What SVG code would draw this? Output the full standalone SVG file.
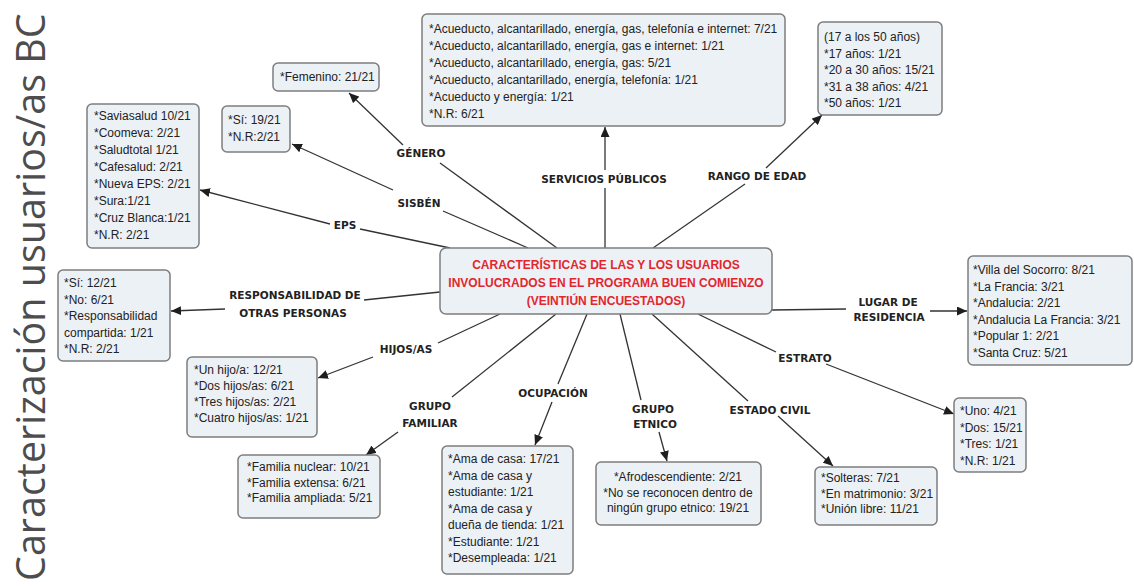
<svg xmlns="http://www.w3.org/2000/svg" width="1134" height="586" viewBox="0 0 1134 586">
<defs>
<marker id="ah" markerUnits="userSpaceOnUse" markerWidth="11" markerHeight="9" refX="10" refY="4.5" orient="auto">
<path d="M0,0 L10,4.5 L0,9 z" fill="#1e1e1e"/>
</marker>
<style>
.box{fill:#ecf1f6;stroke:#7d7d7d;stroke-width:1.5}
.t{font-family:"Liberation Sans",Arial,sans-serif;font-size:12px;fill:#222}
.tc{font-family:"Liberation Sans",Arial,sans-serif;font-size:12px;fill:#222;text-anchor:middle}
.ct{font-family:"Liberation Sans",Arial,sans-serif;font-size:12px;font-weight:bold;fill:#e3262d;text-anchor:middle}
.lbl{font-family:"DejaVu Sans",Verdana,sans-serif;font-size:10.5px;font-weight:bold;fill:#222;text-anchor:middle}
.c{stroke:#333;stroke-width:1.3;fill:none}
.a{stroke:#333;stroke-width:1.3;fill:none;marker-end:url(#ah)}
.title{font-family:"Open Sans","Noto Sans",sans-serif;font-size:39.5px;fill:#4d4d4d}
</style>
</defs>
<rect width="1134" height="586" fill="#ffffff"/>

<text class="title" transform="translate(45,581) rotate(-90)" x="0" y="0">Caracterización usuarios/as BC</text>

<g id="connectors">
<line class="c" x1="557" y1="248" x2="440" y2="163"/>
<line class="a" x1="403" y1="145" x2="349" y2="93"/>
<line class="c" x1="528" y1="248" x2="443" y2="211"/>
<line class="a" x1="393" y1="190" x2="292" y2="144"/>
<line class="c" x1="450" y1="248" x2="360" y2="229"/>
<line class="a" x1="330" y1="224" x2="200" y2="190"/>
<line class="c" x1="605" y1="248" x2="605" y2="188"/>
<line class="a" x1="605" y1="170" x2="605" y2="127"/>
<line class="c" x1="653" y1="248" x2="745" y2="184"/>
<line class="a" x1="766" y1="168" x2="822" y2="115"/>
<line class="c" x1="440" y1="292" x2="364" y2="300"/>
<line class="a" x1="225" y1="309" x2="171" y2="311"/>
<line class="c" x1="500" y1="314" x2="438" y2="343"/>
<line class="a" x1="373" y1="357" x2="318" y2="378"/>
<line class="c" x1="556" y1="314" x2="452" y2="397"/>
<line class="a" x1="398" y1="432" x2="366" y2="455"/>
<line class="c" x1="587" y1="314" x2="558" y2="384"/>
<line class="a" x1="552" y1="402" x2="535" y2="445"/>
<line class="c" x1="620" y1="314" x2="641" y2="400"/>
<line class="a" x1="659" y1="432" x2="667" y2="461"/>
<line class="c" x1="652" y1="314" x2="748" y2="401"/>
<line class="a" x1="778" y1="416" x2="833" y2="466"/>
<line class="c" x1="698" y1="314" x2="776" y2="352"/>
<line class="a" x1="826" y1="364" x2="954" y2="414"/>
<line class="c" x1="772" y1="310" x2="846" y2="309"/>
<line class="a" x1="930" y1="311" x2="967" y2="311"/>
</g>

<g id="center">
<rect class="box" x="440" y="248" width="332" height="66" rx="6"/>
<text class="ct" x="606" y="269">CARACTERÍSTICAS DE LAS Y LOS USUARIOS</text>
<text class="ct" x="606" y="286.5">INVOLUCRADOS EN EL PROGRAMA BUEN COMIENZO</text>
<text class="ct" x="606" y="305">(VEINTIÚN ENCUESTADOS)</text>
</g>

<g id="lbl-genero"><text class="lbl" x="421" y="157">GÉNERO</text></g>
<g id="lbl-sisben"><text class="lbl" x="419" y="207">SISBÉN</text></g>
<g id="lbl-eps"><text class="lbl" x="345" y="229">EPS</text></g>
<g id="lbl-servicios"><text class="lbl" x="604" y="183">SERVICIOS PÚBLICOS</text></g>
<g id="lbl-rango"><text class="lbl" x="757" y="180">RANGO DE EDAD</text></g>
<g id="lbl-resp"><text class="lbl" x="295" y="299">RESPONSABILIDAD DE</text><text class="lbl" x="293" y="317">OTRAS PERSONAS</text></g>
<g id="lbl-hijos"><text class="lbl" x="406" y="353">HIJOS/AS</text></g>
<g id="lbl-familiar"><text class="lbl" x="430" y="410">GRUPO</text><text class="lbl" x="430" y="427">FAMILIAR</text></g>
<g id="lbl-ocupacion"><text class="lbl" x="553" y="397">OCUPACIÓN</text></g>
<g id="lbl-etnico"><text class="lbl" x="653" y="413">GRUPO</text><text class="lbl" x="655" y="428">ETNICO</text></g>
<g id="lbl-civil"><text class="lbl" x="770" y="414">ESTADO CIVIL</text></g>
<g id="lbl-estrato"><text class="lbl" x="805" y="362">ESTRATO</text></g>
<g id="lbl-lugar"><text class="lbl" x="888" y="306">LUGAR DE</text><text class="lbl" x="889" y="321">RESIDENCIA</text></g>

<g id="n-genero">
<rect class="box" x="273" y="63" width="106" height="28" rx="5"/>
<text class="t" x="280" y="81">*Femenino: 21/21</text>
</g>

<g id="n-sisben">
<rect class="box" x="222" y="106" width="68" height="46" rx="5"/>
<text class="t" x="228" y="124">*Sí: 19/21</text>
<text class="t" x="228" y="141">*N.R:2/21</text>
</g>

<g id="n-eps">
<rect class="box" x="87" y="104" width="112" height="144" rx="5"/>
<text class="t" x="94" y="120">*Saviasalud 10/21</text>
<text class="t" x="94" y="137">*Coomeva: 2/21</text>
<text class="t" x="94" y="154">*Saludtotal 1/21</text>
<text class="t" x="94" y="171">*Cafesalud: 2/21</text>
<text class="t" x="94" y="188">*Nueva EPS: 2/21</text>
<text class="t" x="94" y="205">*Sura:1/21</text>
<text class="t" x="94" y="222">*Cruz Blanca:1/21</text>
<text class="t" x="94" y="239">*N.R: 2/21</text>
</g>

<g id="n-servicios">
<rect class="box" x="422" y="14" width="363" height="112" rx="5"/>
<text class="t" x="429" y="33">*Acueducto, alcantarillado, energía, gas, telefonía e internet: 7/21</text>
<text class="t" x="429" y="50">*Acueducto, alcantarillado, energía, gas e internet: 1/21</text>
<text class="t" x="429" y="67">*Acueducto, alcantarillado, energía, gas: 5/21</text>
<text class="t" x="429" y="84">*Acueducto, alcantarillado, energía, telefonía: 1/21</text>
<text class="t" x="429" y="101">*Acueducto y energía: 1/21</text>
<text class="t" x="429" y="118">*N.R: 6/21</text>
</g>

<g id="n-rango">
<rect class="box" x="818" y="22" width="124" height="93" rx="5"/>
<text class="t" x="824" y="41">(17 a los 50 años)</text>
<text class="t" x="824" y="57.5">*17 años: 1/21</text>
<text class="t" x="824" y="74">*20 a 30 años: 15/21</text>
<text class="t" x="824" y="90.5">*31 a 38 años: 4/21</text>
<text class="t" x="824" y="107">*50 años: 1/21</text>
</g>

<g id="n-resp">
<rect class="box" x="58" y="270" width="112" height="91" rx="5"/>
<text class="t" x="64" y="287">*Sí: 12/21</text>
<text class="t" x="64" y="303.5">*No: 6/21</text>
<text class="t" x="64" y="320">*Responsabilidad</text>
<text class="t" x="64" y="336.5">compartida: 1/21</text>
<text class="t" x="64" y="353">*N.R: 2/21</text>
</g>

<g id="n-lugar">
<rect class="box" x="968" y="256" width="164" height="109" rx="5"/>
<text class="t" x="973" y="274">*Villa del Socorro: 8/21</text>
<text class="t" x="973" y="290.5">*La Francia: 3/21</text>
<text class="t" x="973" y="307">*Andalucia: 2/21</text>
<text class="t" x="973" y="323.5">*Andalucia La Francia: 3/21</text>
<text class="t" x="973" y="340">*Popular 1: 2/21</text>
<text class="t" x="973" y="356.5">*Santa Cruz: 5/21</text>
</g>

<g id="n-hijos">
<rect class="box" x="187" y="357" width="130" height="80" rx="5"/>
<text class="t" x="194" y="374">*Un hijo/a: 12/21</text>
<text class="t" x="194" y="390">*Dos hijos/as: 6/21</text>
<text class="t" x="194" y="406">*Tres hijos/as: 2/21</text>
<text class="t" x="194" y="422">*Cuatro hijos/as: 1/21</text>
</g>

<g id="n-familiar">
<rect class="box" x="238" y="455" width="142" height="63" rx="5"/>
<text class="t" x="247" y="471">*Familia nuclear: 10/21</text>
<text class="t" x="247" y="486.5">*Familia extensa: 6/21</text>
<text class="t" x="247" y="502">*Familia ampliada: 5/21</text>
</g>

<g id="n-ocupacion">
<rect class="box" x="442" y="446" width="131" height="128" rx="5"/>
<text class="t" x="448" y="463">*Ama de casa: 17/21</text>
<text class="t" x="448" y="479.5">*Ama de casa y</text>
<text class="t" x="448" y="496">estudiante: 1/21</text>
<text class="t" x="448" y="512.5">*Ama de casa y</text>
<text class="t" x="448" y="529">dueña de tienda: 1/21</text>
<text class="t" x="448" y="545.5">*Estudiante: 1/21</text>
<text class="t" x="448" y="562">*Desempleada: 1/21</text>
</g>

<g id="n-etnico">
<rect class="box" x="596" y="462" width="165" height="63" rx="5"/>
<text class="tc" x="678" y="481">*Afrodescendiente: 2/21</text>
<text class="tc" x="678" y="497">*No se reconocen dentro de</text>
<text class="tc" x="678" y="512">ningún grupo etnico: 19/21</text>
</g>

<g id="n-civil">
<rect class="box" x="815" y="467" width="122" height="58" rx="5"/>
<text class="t" x="821" y="482">*Solteras: 7/21</text>
<text class="t" x="821" y="497.5">*En matrimonio: 3/21</text>
<text class="t" x="821" y="513">*Unión libre: 11/21</text>
</g>

<g id="n-estrato">
<rect class="box" x="954" y="398" width="72" height="74" rx="5"/>
<text class="t" x="960" y="415">*Uno: 4/21</text>
<text class="t" x="960" y="431.5">*Dos: 15/21</text>
<text class="t" x="960" y="448">*Tres: 1/21</text>
<text class="t" x="960" y="464.5">*N.R: 1/21</text>
</g>
</svg>
